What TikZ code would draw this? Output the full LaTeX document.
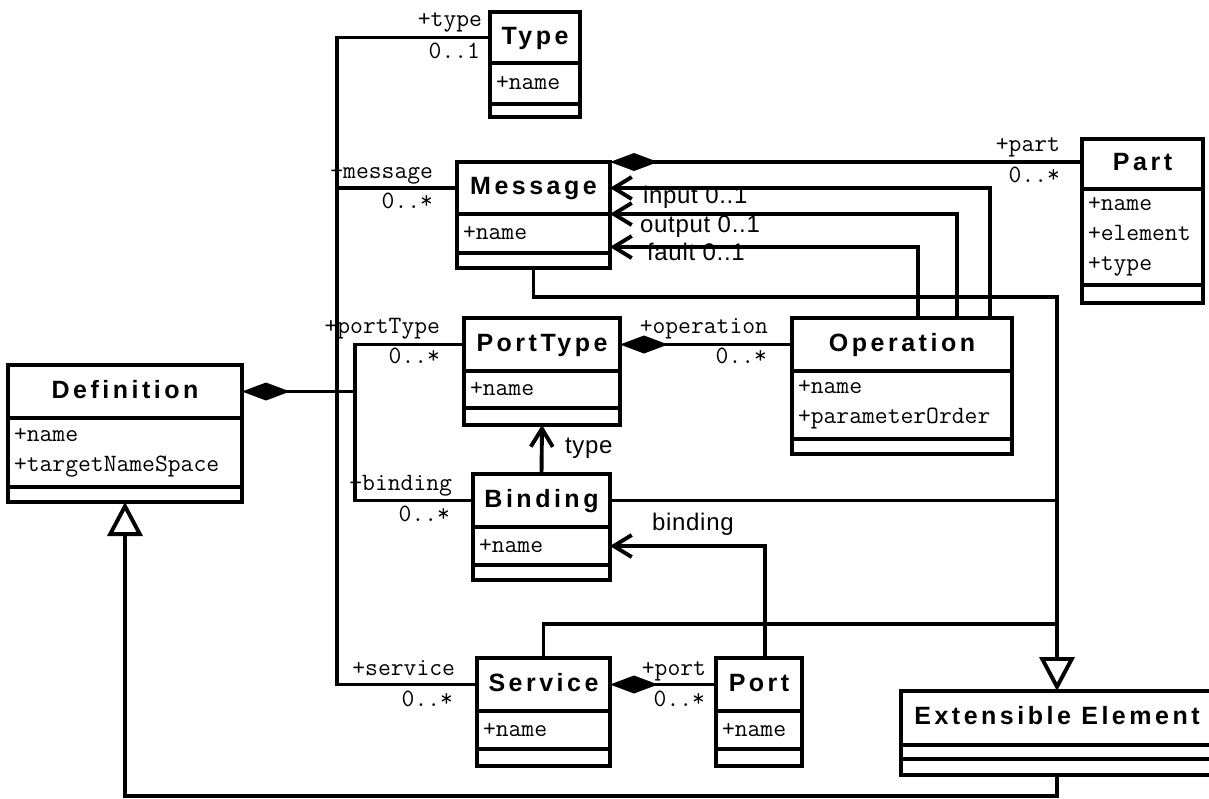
\documentclass[tikz,border=0pt]{standalone}
\usepackage{fontspec}
\usetikzlibrary{arrows.meta, positioning}

\newfontfamily\umlsans{Liberation Sans}[LetterSpace=14]
\newfontfamily\umlnotesans{Liberation Sans}[LetterSpace=3]
\newcommand{\umltitle}{\umlsans\bfseries\fontsize{25}{29}\selectfont}
\newcommand{\umlattr}{\ttfamily\fontsize{24.9}{30}\selectfont}
\newcommand{\umlnote}{\umlnotesans\fontsize{24}{28}\selectfont}

\begin{document}
\begin{tikzpicture}[
  x=1pt, y=-1pt,
  every node/.style={inner sep=0pt, outer sep=0pt},
  classname/.style={
    draw, line width=3.9pt, minimum width=#1, minimum height=53pt,
    text height=18pt, text depth=5pt, font=\umltitle
  },
  classattr/.style={
    draw, line width=3.9pt, text width=#1, inner xsep=6pt,
    align=left, font=\umlattr
  },
  classop/.style={
    draw, line width=3.9pt, minimum width=#1, minimum height=15pt
  },
  role/.style={anchor=base east, font=\umlattr},
  note/.style={anchor=base west, font=\umlnote},
  link/.style={line width=3.9pt},
  comp/.style={link, {Diamond[length=48pt, width=18pt]}-},
  navig/.style={link, -{Straight Barb[length=18pt, width=22pt]}},
  gen/.style={link, -{Triangle[open, fill=white, length=34pt, width=35pt]}}
  ]
  \useasboundingbox (0,0) rectangle (1209,798);

  \node[classname=90pt, minimum height=51pt, anchor=north west] (typeh) at (490,12) {Type};
  \node[classattr=78pt, minimum height=41pt, below=0pt of typeh] (typea) {+name};
  \node[classop=90pt, minimum height=13pt, below=0pt of typea] (typeo) {};

  \node[classname=153pt, minimum height=52pt, anchor=north west] (msgh) at (457,162) {Message};
  \node[classattr=141pt, minimum height=39pt, below=0pt of msgh] (msga) {+name};
  \node[classop=153pt, below=0pt of msga] (msgo) {};

  \node[classname=121pt, minimum height=50pt, anchor=north west] (parth) at (1082,139) {Part};
  \node[classattr=109pt, minimum height=96pt, below=0pt of parth] (parta) {+name\\+element\\+type};
  \node[classop=121pt, minimum height=18pt, below=0pt of parta] (parto) {};

  \node[classname=234pt, anchor=north west] (defh) at (8,365) {Definition};
  \node[classattr=222pt, minimum height=69pt, below=0pt of defh] (defa) {+name\\+targetNameSpace};
  \node[classop=234pt, below=0pt of defa] (defo) {};

  \node[classname=156pt, anchor=north west] (pth) at (464,318) {PortType};
  \node[classattr=144pt, minimum height=37pt, below=0pt of pth] (pta) {+name};
  \node[classop=156pt, minimum height=17pt, below=0pt of pta] (pto) {};

  \node[classname=220pt, anchor=north west] (oph) at (792,318) {Operation};
  \node[classattr=208pt, minimum height=68pt, below=0pt of oph] (opa) {+name\\+parameterOrder};
  \node[classop=220pt, below=0pt of opa] (opo) {};

  \node[classname=137pt, anchor=north west] (bndh) at (473,474) {Binding};
  \node[classattr=125pt, minimum height=38pt, below=0pt of bndh] (bnda) {+name};
  \node[classop=137pt, below=0pt of bnda] (bndo) {};

  \node[classname=133pt, anchor=north west] (svch) at (477,658) {Service};
  \node[classattr=121pt, minimum height=38pt, below=0pt of svch] (svca) {+name};
  \node[classop=133pt, minimum height=17pt, below=0pt of svca] (svco) {};

  \node[classname=86pt, anchor=north west] (porth) at (716,658) {Port};
  \node[classattr=74pt, minimum height=38pt, below=0pt of porth] (porta) {+name};
  \node[classop=86pt, minimum height=17pt, below=0pt of porta] (porto) {};

  \node[classname=312pt, minimum height=54pt, anchor=north west] (exth) at (901,691) {Extensible Element};
  \node[classattr=300pt, minimum height=14pt, below=0pt of exth] (exta) {};
  \node[classop=312pt, minimum height=16pt, below=0pt of exta] (exto) {};

  \coordinate (trunkA) at ([xshift=95pt]defh.east);
  \coordinate (trunkB) at ([xshift=113pt]defh.east);
  \coordinate (partend) at (msgh.north east -| parth.west);
  \coordinate (svcbend) at ([yshift=34pt]svch.north);

  \draw[link] (typeh.west) -| (trunkA);
  \draw[link] (msgh.west) -| (trunkA);
  \draw[link] (svch.west) -| (trunkA);
  \draw[link] (pth.west) -| (trunkB);
  \draw[link] (bndh.west) -| (trunkB);
  \draw[comp] (defh.east) -- (trunkB);

  \draw[comp] (msgh.north east) -- (partend);
  \draw[comp] (pth.east) -- (oph.west);
  \draw[comp] (svch.east) -- (porth.west);

  \draw[navig] ([xshift=88pt]oph.north) |- (msgh.east);
  \draw[navig] ([xshift=55pt]oph.north) |- (msgh.south east);
  \draw[navig] ([xshift=16pt]oph.north) |- ([yshift=-13.5pt]msga.east);
  \draw[navig] (bndh.north) -- (pto.south);
  \draw[navig] ([xshift=6pt]porth.north) |- (bnda.east);

  \draw[link] (bndh.east) -- (bndh.east -| exth.north);
  \draw[link] (svch.north) -- (svcbend) -- (svcbend -| exth.north);
  \draw[gen] (msgo.south) -- ++(0,29) -| (exth.north);
  \draw[gen] (exto.south) -- ++(0,21) -| (defo.south);

  \node[role] (typerole) at ([xshift=-8pt, yshift=11pt]typeh.west) {+type};
  \node[role] (typemult) at ([xshift=-10pt, yshift=-21pt]typeh.west) {0..1};
  \node[role] (msgrole) at ([xshift=-24pt, yshift=10pt]msgh.west) {+message};
  \node[role] (msgmult) at ([xshift=-24pt, yshift=-20pt]msgh.west) {0..*};
  \node[role] (ptrole) at ([xshift=-24pt, yshift=11.5pt]pth.west) {+portType};
  \node[role] (ptmult) at ([xshift=-24pt, yshift=-18.5pt]pth.west) {0..*};
  \node[role] (bndrole) at ([xshift=-21pt, yshift=10.5pt]bndh.west) {+binding};
  \node[role] (bndmult) at ([xshift=-23pt, yshift=-20.5pt]bndh.west) {0..*};
  \node[role] (svcrole) at ([xshift=-22pt, yshift=9.5pt]svch.west) {+service};
  \node[role] (svcmult) at ([xshift=-24pt, yshift=-21.5pt]svch.west) {0..*};
  \node[role] (oprole) at ([xshift=-24pt, yshift=11.5pt]oph.west) {+operation};
  \node[role] (opmult) at ([xshift=-25pt, yshift=-18.5pt]oph.west) {0..*};
  \node[role] (portrole) at ([xshift=-10pt, yshift=9.5pt]porth.west) {+port};
  \node[role] (portmult) at ([xshift=-11pt, yshift=-21.5pt]porth.west) {0..*};
  \node[role] (partrole) at ([xshift=-22pt, yshift=11pt]partend) {+part};
  \node[role] (partmult) at ([xshift=-22pt, yshift=-20pt]partend) {0..*};

  \node[note] (inputnote) at ([xshift=33pt, yshift=-15pt]msgh.east) {input 0..1};
  \node[note] (outputnote) at ([xshift=30pt, yshift=-18pt]msgh.south east) {output 0..1};
  \node[note] (faultnote) at ([xshift=37pt, yshift=-26.5pt]msga.east) {fault 0..1};
  \node[note] (typenote) at ([xshift=23pt, yshift=-28pt]pto.south) {type};
  \node[note] (bindingnote) at ([xshift=42pt, yshift=16pt]bnda.east) {binding};
\end{tikzpicture}
\end{document}
